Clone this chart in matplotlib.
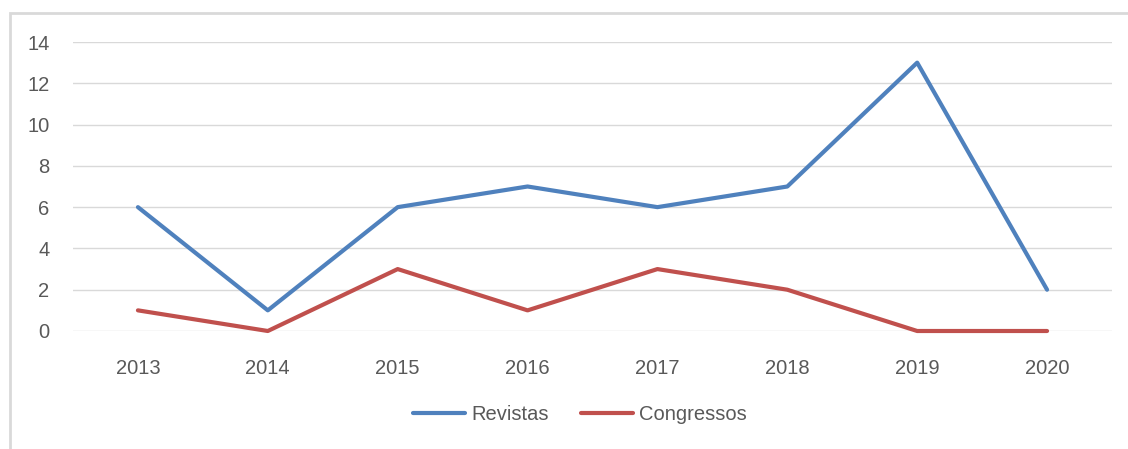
import matplotlib.pyplot as plt
from matplotlib.patches import Rectangle
from matplotlib.lines import Line2D

# ----------------------------------------------------------------------------
# Data

years = ['2013', '2014', '2015', '2016', '2017', '2018', '2019', '2020']
revistas = [6, 1, 6, 7, 6, 7, 13, 2]
congressos = [1, 0, 3, 1, 3, 2, 0, 0]
y_ticks = [0, 2, 4, 6, 8, 10, 12, 14]

BLUE = '#4F81BD'
RED = '#C0504D'
TEXT = '#595959'
GRID = '#D9D9D9'

plt.rcParams['font.family'] = ['Liberation Sans', 'DejaVu Sans']

fig = plt.figure(figsize=(11.28, 4.49), dpi=100)
W, H = 1128, 449

# chart border (only left and top edges visible in the crop)
fig.patches.append(Rectangle(
    (10 / W, -0.1), 1.2, (H - 13) / H + 0.1, transform=fig.transFigure,
    fill=False, edgecolor='#D9D9D9', linewidth=2, zorder=0
    ))

ax = fig.add_axes([73 / W, (H - 331) / H, (1112 - 73) / W, (331 - 42) / H])
x = list(range(len(years)))
for vals, color, name in [(revistas, BLUE, 'Revistas'),
                          (congressos, RED, 'Congressos')]:
    ax.plot(x, vals, color=color, linewidth=3, solid_capstyle='round',
            solid_joinstyle='round', label=name, zorder=3, clip_on=False)

ax.set_xlim(-0.5, len(years) - 0.5)
ax.set_ylim(0, 14)
ax.set_yticks(y_ticks)
ax.set_xticks(x)
ax.set_xticklabels(years)
ax.grid(axis='y', color=GRID, linewidth=1)
ax.set_axisbelow(True)
for side in ax.spines:
    ax.spines[side].set_visible(False)
ax.tick_params(length=0, labelsize=14.5, colors=TEXT)
ax.tick_params(axis='y', pad=17)
ax.tick_params(axis='x', pad=20)
ax.patch.set_alpha(0)

handles = [Line2D([], [], color=BLUE, linewidth=3, solid_capstyle='round'),
           Line2D([], [], color=RED, linewidth=3, solid_capstyle='round')]
fig.legend(handles, ['Revistas', 'Congressos'], loc='center',
           bbox_to_anchor=(580 / W, (H - 415) / H), ncol=2, frameon=False,
           fontsize=14.5, labelcolor=TEXT, handlelength=2.6,
           handletextpad=0.3, columnspacing=1.6)

fig.savefig('out.png', dpi=100)
